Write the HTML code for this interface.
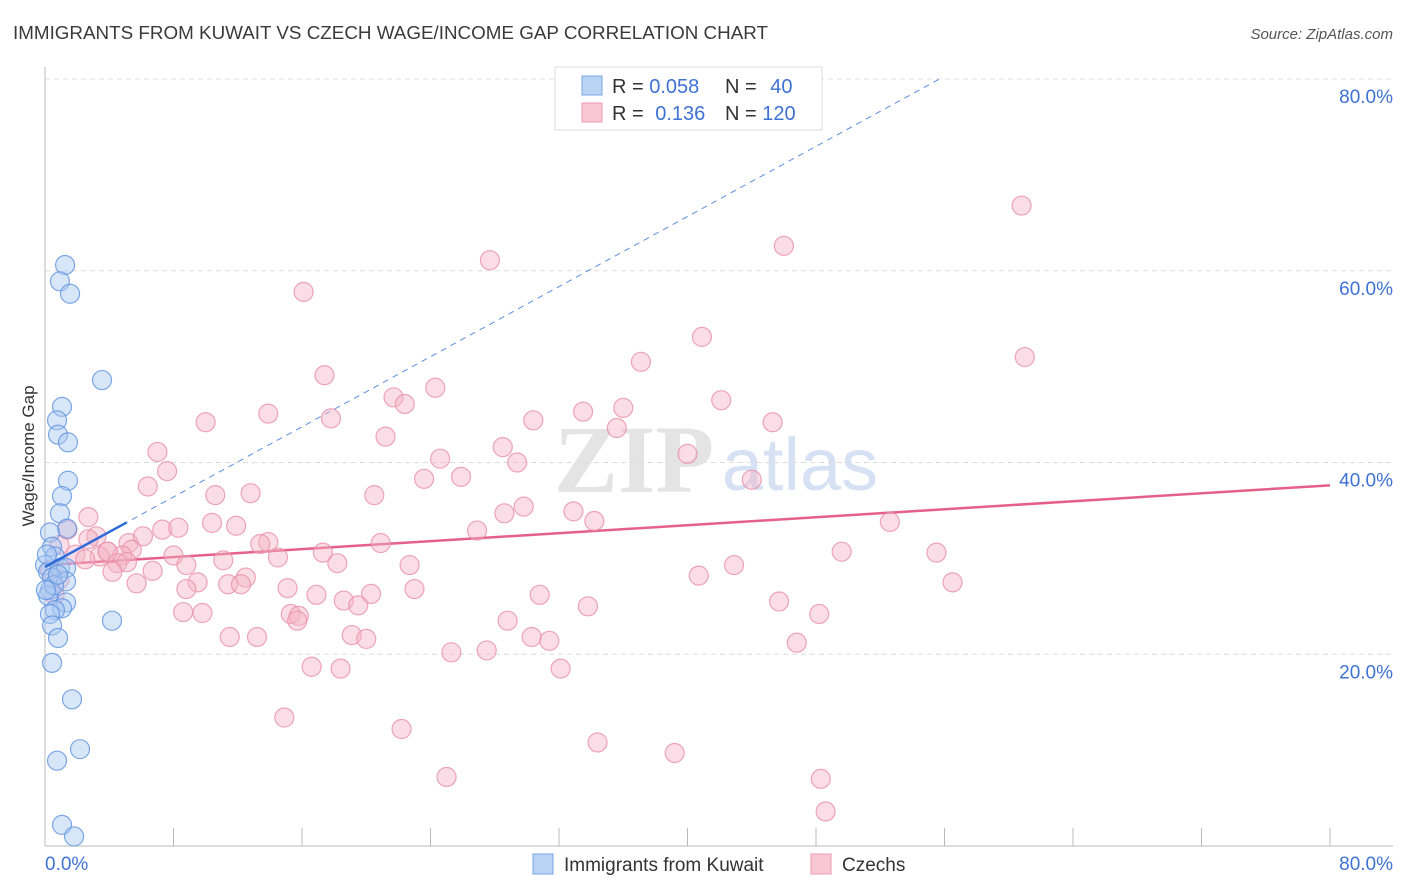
<!DOCTYPE html>
<html><head><meta charset="utf-8">
<style>
body{margin:0;background:#fff;font-family:"Liberation Sans",sans-serif;}
svg{display:block}
</style></head>
<body>
<svg id="chart" width="1406" height="892" xmlns="http://www.w3.org/2000/svg">
<text x="13" y="39" font-size="18" textLength="755" lengthAdjust="spacingAndGlyphs" fill="#3a3a3a">IMMIGRANTS FROM KUWAIT VS CZECH WAGE/INCOME GAP CORRELATION CHART</text>
<text x="1393" y="39" font-size="15" fill="#555" text-anchor="end" font-style="italic">Source: ZipAtlas.com</text>
<text transform="translate(34,456) rotate(-90)" font-size="17" fill="#333" text-anchor="middle">Wage/Income Gap</text>
<g id="watermark">
<text x="634" y="492" font-size="96" fill="#e4e4e4" font-family="Liberation Serif,serif" font-weight="bold" text-anchor="middle">ZIP</text>
<text x="800" y="490" font-size="74" fill="#d6e2f4" text-anchor="middle">atlas</text>
</g>
<g id="grid"></g>
<g id="axes"></g>
<g id="trend"></g>
<g id="pts"></g>
<g>
<rect x="555" y="67" width="267" height="63" fill="#fff" stroke="#ddd"/>
<rect x="582" y="76" width="20" height="19" fill="#b9d3f5" stroke="#7aa6e4"/>
<rect x="582" y="103" width="20" height="19" fill="#f8c6d4" stroke="#eb9ab2"/>
<text x="612" y="93" font-size="20" fill="#333">R = <tspan fill="#3f72d3">0.058</tspan></text>
<text x="725" y="93" font-size="20" fill="#333">N = <tspan fill="#3f72d3" dx="8">40</tspan></text>
<text x="612" y="120" font-size="20" fill="#333">R = <tspan fill="#3f72d3" dx="6">0.136</tspan></text>
<text x="725" y="120" font-size="20" fill="#333">N = <tspan fill="#3f72d3">120</tspan></text>
</g>
<g>
<rect x="533" y="854" width="20" height="20" fill="#b9d3f5" stroke="#7aa6e4"/>
<text x="564" y="871" font-size="19" fill="#333">Immigrants from Kuwait</text>
<rect x="811" y="854" width="20" height="20" fill="#f8c6d4" stroke="#eb9ab2"/>
<text x="842" y="871" font-size="19" fill="#333">Czechs</text>
</g>
</svg>
<script>
const yTicks=[20,40,60,80];
const yTickLabels=["20.0%","40.0%","60.0%","80.0%"];
const xTickCount=10;
const xLabels=["0.0%","80.0%"];
const kuwaitX=[1.25,0.93,1.56,3.55,1.06,0.75,0.81,1.43,1.43,1.06,0.93,1.37,0.31,0.44,0.62,0,0.19,0.93,1.31,0.44,1.31,0.31,0.19,1.31,1.06,0.62,0.31,0.44,0.81,4.17,0.44,1.68,2.18,0.75,1.06,1.81,0.12,0.56,0.06,0.81];
const kuwaitY=[60.6,58.9,57.6,48.6,45.8,44.4,42.9,42.1,38.1,36.5,34.7,33.1,32.7,31.2,30.2,29.3,28.6,29.0,29.0,28.0,27.6,26.7,26.1,25.4,24.8,24.6,24.2,23.0,21.7,23.5,19.1,15.3,10.1,8.9,2.2,1.0,30.4,27.2,26.7,28.3];
const czechX=[60.8,46.0,27.7,16.1,40.9,37.1,61.0,17.4,24.3,21.7,22.4,42.1,36.0,33.5,13.9,17.8,10.0,30.4,45.3,35.6,21.2,28.5,7.0,40.0,24.6,29.4,7.6,23.6,25.9,44.0,6.4,10.6,12.8,20.5,29.8,28.6,32.9,52.6,34.2,10.4,2.7,11.9,7.3,8.3,26.9,1.4,3.2,5.2,6.1,13.9,13.4,20.9,3.9,5.4,4.8,3.4,3.9,8.0,17.3,49.6,55.5,14.5,11.1,8.8,4.5,5.1,18.2,22.7,42.9,4.2,6.7,40.7,12.5,9.5,5.7,11.4,12.2,8.8,15.1,23.0,16.9,20.3,30.8,56.5,18.6,19.5,45.7,33.8,15.3,15.8,15.7,48.2,28.8,19.1,20.0,30.3,31.4,11.5,13.2,8.6,9.8,46.8,25.3,27.5,16.6,18.4,32.1,14.9,22.2,34.4,39.2,25.0,48.3,48.6,2.7,0.9,1.9,0.9,0.6,0.3,2.5];
const czechY=[66.8,62.6,61.1,57.8,53.1,50.5,51.0,49.1,47.8,46.8,46.1,46.5,45.7,45.3,45.1,44.6,44.2,44.4,44.2,43.6,42.7,41.6,41.1,40.9,40.4,40.0,39.1,38.3,38.5,38.2,37.5,36.6,36.8,36.6,35.4,34.7,34.9,33.8,33.9,33.7,34.3,33.4,33.0,33.2,32.9,33.0,32.3,31.6,32.3,31.7,31.5,31.6,30.7,30.9,30.3,30.2,30.7,30.3,30.6,30.7,30.6,30.1,29.8,29.3,29.5,29.6,29.5,29.3,29.3,28.6,28.7,28.2,28.0,27.5,27.4,27.3,27.3,26.8,26.9,26.8,26.2,26.3,26.2,27.5,25.6,25.1,25.5,25.0,24.2,24.0,23.5,24.2,23.5,22.0,21.6,21.8,21.4,21.8,21.8,24.4,24.3,21.2,20.2,20.4,18.7,18.5,18.5,13.4,12.2,10.8,9.7,7.2,7.0,3.6,32.0,31.4,30.4,27.8,26.2,28.8,29.9];
const kuwaitTrend=[29.1,0.914];
const czechTrend=[29.3,0.104];

const NS="http://www.w3.org/2000/svg";
const X0=45,X1=1330,Y0=846,YT=79;
function sx(v){return X0+(v/80)*(X1-X0);}
function sy(v){return Y0-(v/80)*(Y0-YT);}
function mk(tag,attrs,parent){const e=document.createElementNS(NS,tag);for(const k in attrs)e.setAttribute(k,attrs[k]);document.getElementById(parent).appendChild(e);return e;}

yTicks.forEach((t,i)=>{
  const l=mk('line',{x1:45,x2:1393,y1:sy(t),y2:sy(t),stroke:'#ddd','stroke-dasharray':'5,4'},'grid');
  
  
  const tx=mk('text',{x:1393,y:sy(t)+24,'font-size':19,fill:'#3f72d3','text-anchor':'end'},'grid');
  tx.textContent=yTickLabels[i];
  
  
});
const ya=mk('line',{x1:45,x2:45,y1:67,y2:846,stroke:'#bbb'},'axes');


const xa=mk('line',{x1:45,x2:1393,y1:846,y2:846,stroke:'#bbb'},'axes');


for(let i=0;i<=xTickCount;i++){
  const t=mk('line',{x1:sx(i*8),x2:sx(i*8),y1:828,y2:846,stroke:'#bbb'},'axes');
  
  
}
[[0,'start',45],[80,'end',1393]].forEach((a,i)=>{
  const t=mk('text',{x:a[2],y:870,'font-size':19,fill:'#3f72d3','text-anchor':a[1]},'axes');
  t.textContent=xLabels[i];
  
  
});
const xEnd=(80-kuwaitTrend[0])/kuwaitTrend[1];
const kd=mk('line',{x1:sx(0),y1:sy(kuwaitTrend[0]),x2:sx(xEnd),y2:sy(80),stroke:'#5b8ee0','stroke-width':1,'stroke-dasharray':'6,5'},'trend');


const kmax=Math.max(...kuwaitX);
const cl=mk('line',{x1:sx(0),y1:sy(czechTrend[0]),x2:sx(80),y2:sy(czechTrend[0]+czechTrend[1]*80),stroke:'#e4608a','stroke-width':2.5},'trend');


function pts(xs,ys,fill,stroke,name){
  xs.forEach((x,i)=>{
    const c=mk('circle',{cx:sx(x),cy:sy(ys[i]),r:9.5,fill:fill,'fill-opacity':0.45,stroke:stroke,'stroke-opacity':0.8,'stroke-width':1.2},'pts');
    
    
  });
}
pts(czechX,czechY,'#f4b4c8','#e890aa','czech-point');
pts(kuwaitX,kuwaitY,'#a9c8f2','#5f93e0','kuwait-point');
const ks=mk('line',{x1:sx(0),y1:sy(kuwaitTrend[0]),x2:sx(kmax*1.22),y2:sy(kuwaitTrend[0]+kuwaitTrend[1]*kmax*1.22),stroke:'#2f6ad8','stroke-width':2.5},'pts');


</script>
</body></html>
